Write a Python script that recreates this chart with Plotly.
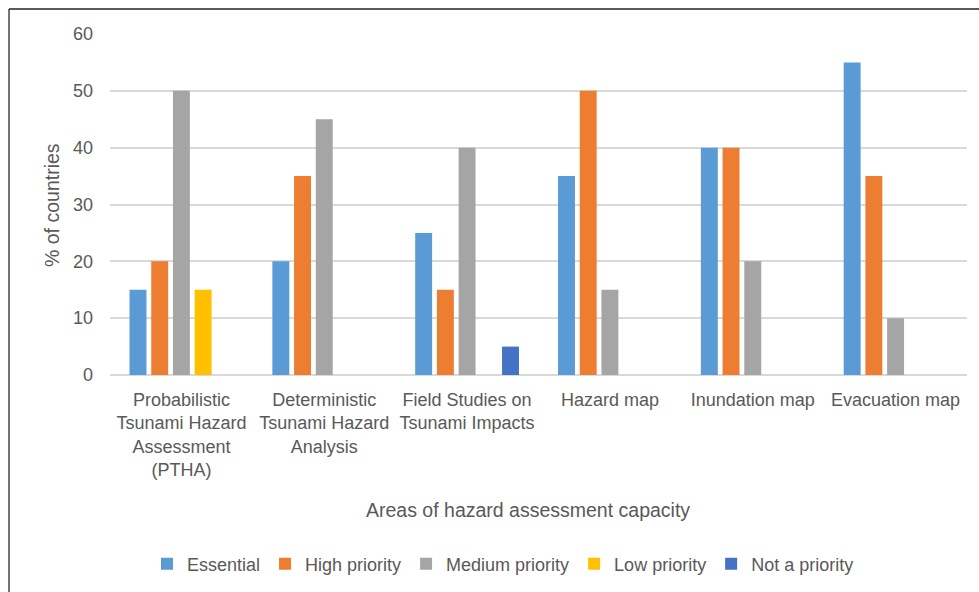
import plotly.graph_objects as go

categories = [
    "Probabilistic<br>Tsunami Hazard<br>Assessment<br>(PTHA)",
    "Deterministic<br>Tsunami Hazard<br>Analysis",
    "Field Studies on<br>Tsunami Impacts",
    "Hazard map",
    "Inundation map",
    "Evacuation map",
]
essential = [15, 20, 25, 35, 40, 55]
high_priority = [20, 35, 15, 50, 40, 35]
medium_priority = [50, 45, 40, 15, 20, 10]
low_priority = [15, 0, 0, 0, 0, 0]
not_a_priority = [0, 0, 5, 0, 0, 0]

series = [
    ("Essential", essential, "#5B9BD5"),
    ("High priority", high_priority, "#ED7D31"),
    ("Medium priority", medium_priority, "#A5A5A5"),
    ("Low priority", low_priority, "#FFC000"),
    ("Not a priority", not_a_priority, "#4472C4"),
]

FONT = "Liberation Sans"
TXT = "#595959"

fig = go.Figure()
for name, vals, color in series:
    fig.add_trace(go.Bar(
        name=name, x=categories, y=vals,
        marker=dict(color=color, line=dict(width=0)),
    ))

W, H = 979, 592
L, R, T, B = 110, 12, 34, 217
pw, ph = W - L - R, H - T - B

def px(x):
    return (x - L) / pw

def py(y):
    return (H - B - y) / ph

fig.update_layout(
    width=W, height=H,
    margin=dict(l=L, r=R, t=T, b=B, autoexpand=False),
    paper_bgcolor="white", plot_bgcolor="white",
    barmode="group", bargap=0.24, bargroupgap=0.22,
    font=dict(family=FONT, size=18, color=TXT),
    showlegend=True,
    legend=dict(
        orientation="h", x=px(503), xanchor="center", y=py(564), yanchor="middle",
        font=dict(family=FONT, size=18, color=TXT),
        traceorder="normal", itemwidth=30,
    ),
    xaxis=dict(
        showgrid=False, showline=False, ticks="", tickangle=0,
        tickfont=dict(family=FONT, size=18, color=TXT),
        ticklabelstandoff=12, automargin=False,
    ),
    yaxis=dict(
        range=[0, 60], dtick=10, showgrid=True, gridcolor="#D9D9D9", gridwidth=1.5,
        zeroline=True, zerolinecolor="#D9D9D9", zerolinewidth=1.5, showline=False,
        ticks="", tickfont=dict(family=FONT, size=18, color=TXT),
        ticklabelstandoff=16, automargin=False,
    ),
    annotations=[
        dict(text="Areas of hazard assessment capacity", xref="paper", yref="paper",
             x=px(528), y=py(510), xanchor="center", yanchor="middle",
             showarrow=False, font=dict(family=FONT, size=19.5, color=TXT)),
        dict(text="% of countries", xref="paper", yref="paper",
             x=px(52), y=py(205), xanchor="center", yanchor="middle", textangle=-90,
             showarrow=False, font=dict(family=FONT, size=19.5, color=TXT)),
    ],
    shapes=[
        dict(type="line", xref="paper", yref="paper",
             x0=px(9), x1=px(979), y0=py(9), y1=py(9),
             line=dict(color="#222222", width=1.5)),
        dict(type="line", xref="paper", yref="paper",
             x0=px(9), x1=px(9), y0=py(9), y1=py(592),
             line=dict(color="#444444", width=1.5)),
    ],
)

fig.write_html("out.html")
